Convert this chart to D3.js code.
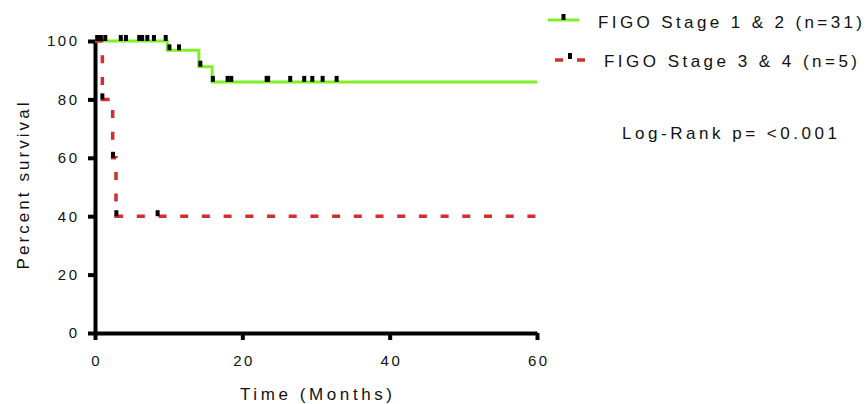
<!DOCTYPE html>
<html>
<head>
<meta charset="utf-8">
<script src="https://cdn.jsdelivr.net/npm/d3@7"></script>
<style>
  body { margin: 0; background: #fff; }
  text { font-family: "Liberation Sans", Arial, sans-serif; fill: #111; }
</style>
</head>
<body>
<div id="chart"></div>
<script>
// Kaplan-Meier steps (months, percent survival)
var stage12Times = [0, 9.8, 14.1, 15.9, 60];
var stage12Surv = [100, 96.8, 91.2, 86.0, 86.0];
var stage12Censor = [0.3, 0.8, 1.4, 3.5, 4.2, 6.0, 6.4, 7.1, 8.0, 9.6, 10.1, 11.4,
                     14.3, 16.0, 18.0, 18.5, 23.3, 23.5, 26.5, 28.4, 29.5, 30.9, 32.8];

var stage34Times = [0, 1.0, 2.4, 2.85, 60];
var stage34Surv = [100, 80, 60, 40, 40];
var stage34Censor = [1.0, 2.45, 2.9, 8.5];

var xTicks = [0, 20, 40, 60];
var yTicks = [0, 20, 40, 60, 80, 100];

var legendLabels = ["FIGO Stage 1 & 2 (n=31)", "FIGO Stage 3 & 4 (n=5)"];
var pText = "Log-Rank p= <0.001";

var width = 866;
var height = 404;
var green = "#7ef024";
var red = "#d22d2f";

var svg = d3.select("#chart")
  .append("svg")
    .attr("width", width)
    .attr("height", height);

var x = d3.scaleLinear().domain([0, 60]).range([95, 537]);
var y = d3.scaleLinear().domain([0, 100]).range([333, 41]);

function zipSteps(times, surv) {
  return times.map(function(t, i) { return { t: t, s: surv[i] }; });
}

function survAt(times, surv, t) {
  var v = surv[0];
  for (var i = 0; i < times.length; i++) {
    if (times[i] <= t) v = surv[i];
  }
  return v;
}

var stepLine = d3.line()
  .x(function(d) { return x(d.t); })
  .y(function(d) { return y(d.s); })
  .curve(d3.curveStepAfter);

// axes
var xAxis = d3.axisBottom(x).tickValues(xTicks).tickSize(7).tickSizeOuter(0).tickPadding(15);
var yAxis = d3.axisLeft(y).tickValues(yTicks).tickSize(7).tickSizeOuter(0).tickPadding(11);

var gx = svg.append("g")
  .attr("transform", "translate(0,333)")
  .call(xAxis);
var gy = svg.append("g")
  .attr("transform", "translate(95,0)")
  .call(yAxis);

[gx, gy].forEach(function(g) {
  g.select(".domain").attr("stroke", "#000").attr("stroke-width", 4);
  g.selectAll(".tick line").attr("stroke", "#000").attr("stroke-width", 4);
  g.selectAll(".tick text")
    .attr("fill", "#111")
    .style("font-family", "'Liberation Sans', Arial, sans-serif")
    .style("font-size", "15px")
    .style("letter-spacing", "2.5px");
});
gx.selectAll(".tick text").attr("dx", "1.25px");
gy.selectAll(".tick text").attr("dx", "2.5px");

// curves
svg.append("path")
  .datum(zipSteps(stage12Times, stage12Surv))
  .attr("fill", "none")
  .attr("stroke", green)
  .attr("stroke-width", 3)
  .attr("d", stepLine);

svg.append("path")
  .datum(zipSteps(stage34Times, stage34Surv))
  .attr("fill", "none")
  .attr("stroke", red)
  .attr("stroke-width", 3.5)
  .attr("stroke-dasharray", "8,13.7")
  .attr("d", stepLine);

// censor marks
function censorMarks(times, surv, cens) {
  svg.append("g")
    .selectAll("rect")
    .data(cens)
    .enter()
    .append("rect")
    .attr("x", function(d) { return x(d) - 2; })
    .attr("y", function(d) { return y(survAt(times, surv, d)) - 6; })
    .attr("width", 4)
    .attr("height", 6)
    .attr("fill", "#000");
}
censorMarks(stage12Times, stage12Surv, stage12Censor);
censorMarks(stage34Times, stage34Surv, stage34Censor);

// axis titles
svg.append("text")
  .attr("x", 316)
  .attr("y", 400)
  .attr("text-anchor", "middle")
  .style("font-size", "17px")
  .attr("textLength", 152)
  .attr("lengthAdjust", "spacing")
  .text("Time (Months)");

svg.append("text")
  .attr("transform", "translate(29,186) rotate(-90)")
  .attr("text-anchor", "middle")
  .style("font-size", "17px")
  .attr("textLength", 167)
  .attr("lengthAdjust", "spacing")
  .text("Percent survival");

// legend
var legend = svg.append("g");
legend.append("line")
  .attr("x1", 548).attr("x2", 579).attr("y1", 20).attr("y2", 20)
  .attr("stroke", green).attr("stroke-width", 3);
legend.append("rect")
  .attr("x", 561.5).attr("y", 14).attr("width", 4).attr("height", 6)
  .attr("fill", "#000");
legend.append("text")
  .attr("x", 598).attr("y", 28)
  .style("font-size", "17px")
  .attr("textLength", 264)
  .attr("lengthAdjust", "spacing")
  .text(legendLabels[0]);

legend.append("line")
  .attr("x1", 555).attr("x2", 585).attr("y1", 60).attr("y2", 60)
  .attr("stroke", red).attr("stroke-width", 3.5)
  .attr("stroke-dasharray", "8,14");
legend.append("rect")
  .attr("x", 568).attr("y", 53).attr("width", 4).attr("height", 6)
  .attr("fill", "#000");
legend.append("text")
  .attr("x", 604).attr("y", 67)
  .style("font-size", "17px")
  .attr("textLength", 253)
  .attr("lengthAdjust", "spacing")
  .text(legendLabels[1]);

svg.append("text")
  .attr("x", 622).attr("y", 139)
  .style("font-size", "17px")
  .attr("textLength", 215)
  .attr("lengthAdjust", "spacing")
  .text(pText);
</script>
</body>
</html>
